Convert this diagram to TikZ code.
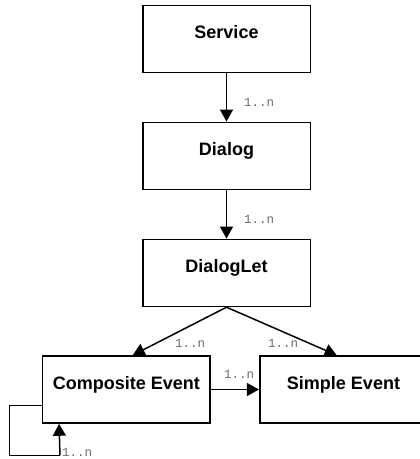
\documentclass[tikz,border=0pt]{standalone}
\usepackage{fontspec}
\setmainfont{Liberation Sans}
\newfontfamily\lblfont{Liberation Mono}
\usetikzlibrary{arrows.meta}
\definecolor{lblgray}{RGB}{105,105,105}
\tikzset{
  box/.style={draw, line width=1.6pt, minimum width=167.6pt, minimum height=67pt,
    inner sep=0pt, text height=11pt, text depth=11pt,
    font=\fontsize{18}{20}\selectfont\bfseries},
  conn/.style={line width=1.5pt, -{Triangle[width=13pt,length=12pt]}},
  loopline/.style={line width=1.5pt},
  lbl/.style={anchor=west, inner sep=0pt, text=lblgray, font=\fontsize{12.5}{13}\lblfont}
}
\begin{document}
\begin{tikzpicture}[x=1pt,y=-1pt]
\useasboundingbox (0,0) rectangle (420,459);
\node[box] (service) at (226.5,38.8) {Service};
\node[box] (dialog) at (226.5,155.8) {Dialog};
\node[box] (dialoglet) at (226.5,272.9) {DialogLet};
\node[box] (comp) at (126.35,389.5) {Composite Event};
\node[box] (simple) at (343.5,389.5) {Simple Event};

\draw[conn] (service.south) -- (dialog.north);
\draw[conn] (dialog.south) -- (dialoglet.north);
\draw[conn] (dialoglet.south) -- ([xshift=6.35pt]comp.north);
\draw[conn] (dialoglet.south) -- ([xshift=-6.8pt]simple.north);
\draw[conn] (comp.east) -- (simple.west);

\coordinate (loopA) at (9.7,405.7);
\coordinate (loopB) at (9.7,455.7);
\coordinate (loopC) at (60,455.7);
\draw[loopline] ([yshift=-16.2pt]comp.west) -- (loopA) -- (loopB) -- (loopC);
\draw[conn] (loopC) -- ([xshift=17.3pt]comp.south west);

\node[lbl] (l1) at (244,102) {1..n};
\node[lbl] (l2) at (244,219) {1..n};
\node[lbl] (l3) at (175,343.3) {1..n};
\node[lbl] (l4) at (268,343.3) {1..n};
\node[lbl] (l5) at (224,374) {1..n};
\node[lbl] (l6) at (62,452) {1..n};
\end{tikzpicture}
\end{document}
